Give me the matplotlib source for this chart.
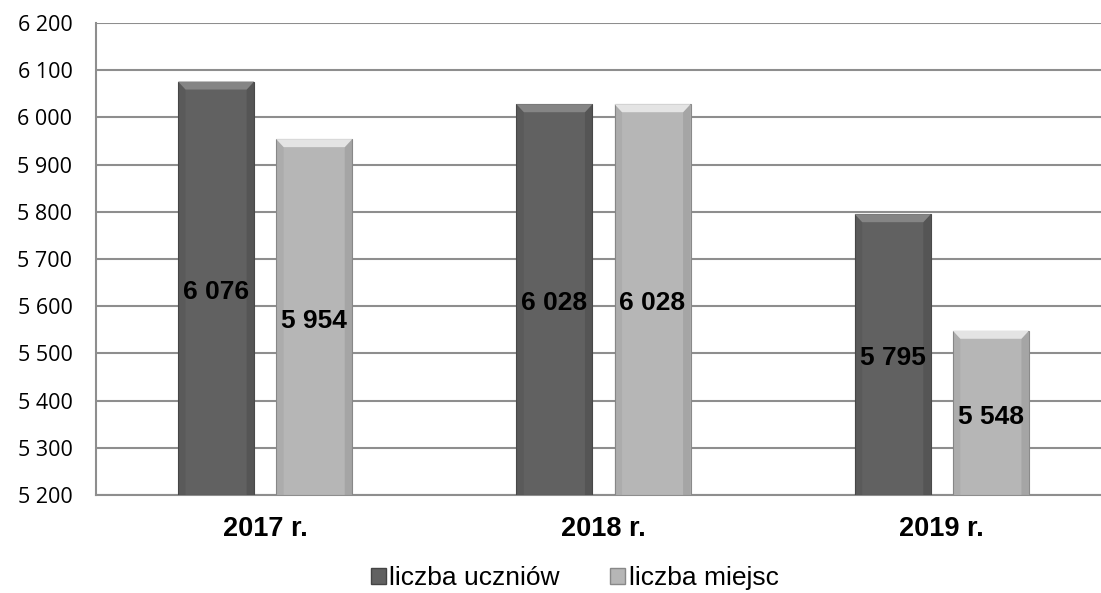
"""Liczba uczniów vs liczba miejsc, 2017-2019 (grouped bars with labels in the middle)."""
import matplotlib
matplotlib.use("Agg")
import matplotlib.pyplot as plt
from matplotlib.patches import Patch

years = ["2017 r.", "2018 r.", "2019 r."]
uczniowie = [6076, 6028, 5795]
miejsca = [5954, 6028, 5548]
series_names = ["liczba uczniów", "liczba miejsc"]

DARK = "#616161"
LIGHT = "#b6b6b6"
GRID = "#8e8e8e"
Y0, Y1 = 5200, 6200


def fmt(v):
    return f"{v:,}".replace(",", " ")


def bevel(ax, b, top_col, side_col):
    # light top facet + slightly darker side facets to mimic the Excel bevel
    x0, w = b.get_x(), b.get_width()
    y1 = b.get_y() + b.get_height()
    dx, dy = 0.022, 17
    ax.fill([x0, x0 + w, x0 + w - dx, x0 + dx], [y1, y1, y1 - dy, y1 - dy],
            color=top_col, lw=0, zorder=3.5)
    ax.fill([x0, x0 + dx, x0 + dx, x0], [y1, y1 - dy, Y0, Y0],
            color=side_col, lw=0, zorder=3.4, alpha=0.12)
    ax.fill([x0 + w, x0 + w - dx, x0 + w - dx, x0 + w], [y1, y1 - dy, Y0, Y0],
            color=side_col, lw=0, zorder=3.4, alpha=0.22)


def main():
    plt.rcParams["font.family"] = ["Liberation Sans", "DejaVu Sans"]
    fig = plt.figure(figsize=(11.01, 5.93), dpi=100)
    ax = fig.add_axes([96 / 1101, 1 - 495 / 593, 1015 / 1101, 472 / 593])

    xs = range(len(years))
    off, w = 0.145, 0.2245
    styles = [(uczniowie, DARK, -1, "#4a4a4a", "#858585", "#2c2c2c"),
              (miejsca, LIGHT, 1, "#8a8a8a", "#e4e4e4", "#6a6a6a")]
    for vals, col, sign, edge, top_col, side_col in styles:
        pos = [x + sign * off for x in xs]
        heights = [v - Y0 for v in vals]
        bars = ax.bar(pos, heights, width=w, bottom=Y0, color=col,
                      edgecolor=edge, linewidth=0.8, zorder=3)
        for b, v in zip(bars, vals):
            bevel(ax, b, top_col, side_col)
            ax.text(b.get_x() + b.get_width() / 2, (Y0 + v) / 2 - 8, fmt(v),
                    ha="center", va="center", fontsize=19, fontweight="bold",
                    color="black", zorder=4)

    ax.set_xlim(-0.5, 2.5)
    ax.set_ylim(Y0, Y1)
    ax.set_yticks(range(Y0, Y1 + 1, 100))
    ax.set_yticklabels([fmt(v) for v in range(Y0, Y1 + 1, 100)],
                       fontsize=15.5, family=["Open Sans", "DejaVu Sans"])
    ax.set_xticks(list(xs))
    ax.set_xticklabels(years, fontsize=19.5, fontweight="bold")
    ax.tick_params(axis="y", length=0, pad=17)
    ax.tick_params(axis="x", length=0, pad=15)
    ax.grid(axis="y", color=GRID, linewidth=1.5, zorder=0)
    ax.set_axisbelow(True)
    for s in ["top", "right"]:
        ax.spines[s].set_visible(False)
    for s in ["left", "bottom"]:
        ax.spines[s].set_color(GRID)
        ax.spines[s].set_linewidth(1.5)

    handles = [Patch(facecolor=DARK, edgecolor="#444444"),
               Patch(facecolor=LIGHT, edgecolor="#888888")]
    fig.legend(handles, series_names, loc="lower center", bbox_to_anchor=(0.522, -0.035),
               ncol=2, frameon=False, fontsize=19, handlelength=0.55, handleheight=0.55,
               handletextpad=0.15, columnspacing=1.9)

    fig.savefig("out.png", dpi=100)


if __name__ == "__main__":
    main()
